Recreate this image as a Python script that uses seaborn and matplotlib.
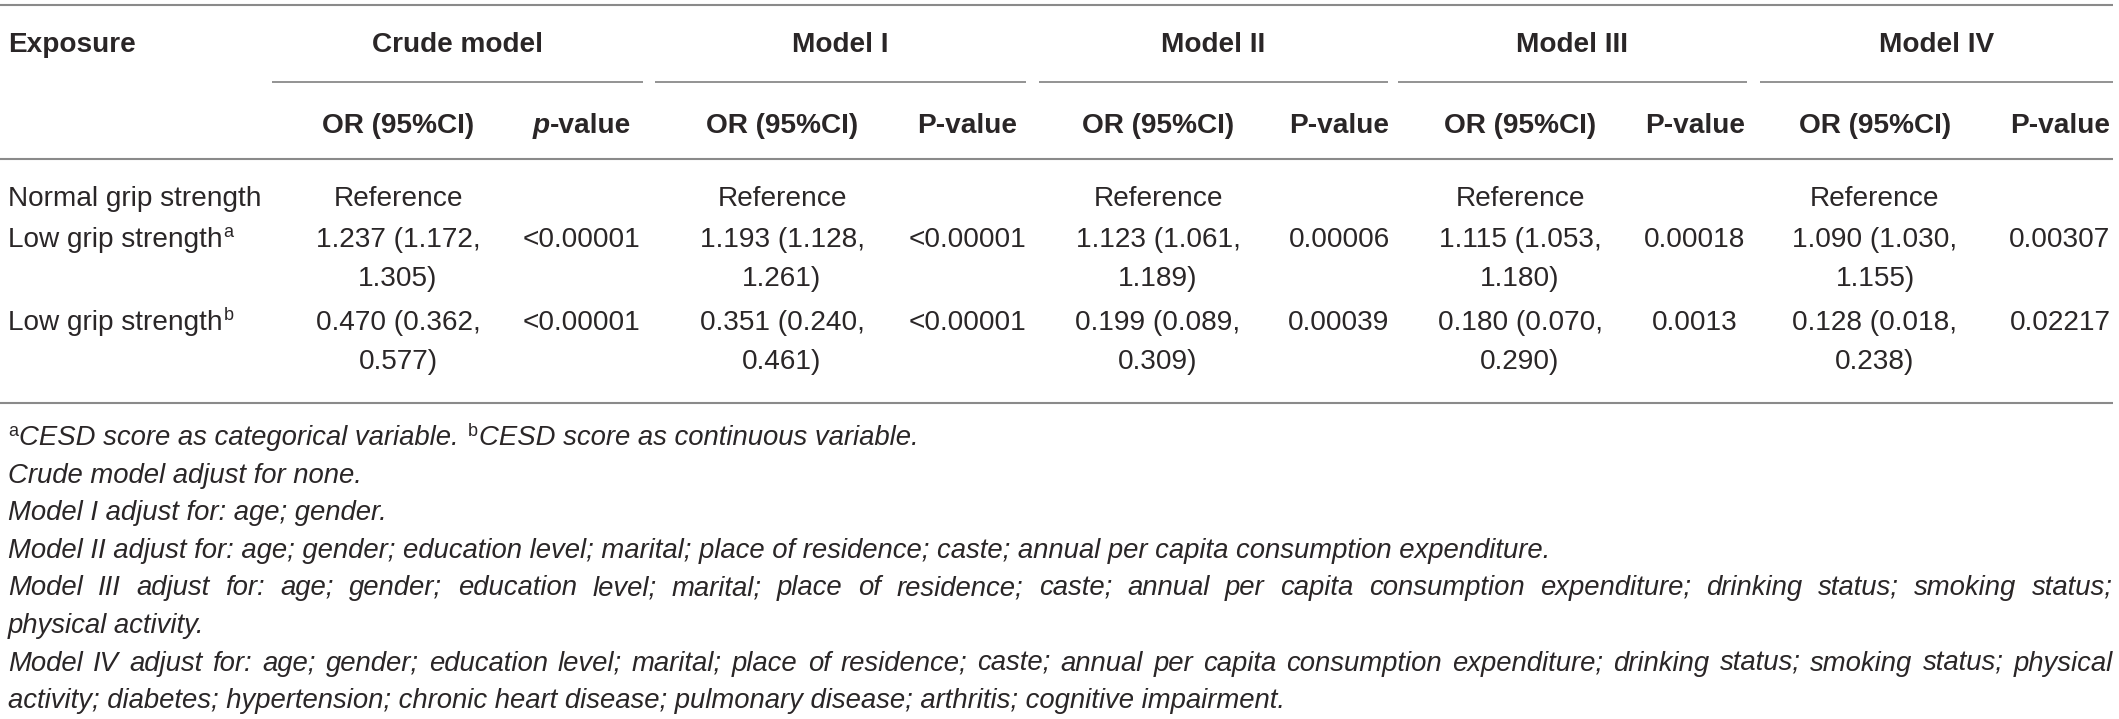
import matplotlib
matplotlib.use("Agg")
import matplotlib.pyplot as plt
import seaborn as sns

# table content
exposures = ["Normal grip strength", "Low grip strength", "Low grip strength"]
exposure_sup = ["", "a", "b"]
models = ["Crude model", "Model I", "Model II", "Model III", "Model IV"]

or_a = [1.237, 1.193, 1.123, 1.115, 1.090]
ci_lo_a = [1.172, 1.128, 1.061, 1.053, 1.030]
ci_hi_a = [1.305, 1.261, 1.189, 1.180, 1.155]
p_a = ["<0.00001", "<0.00001", "0.00006", "0.00018", "0.00307"]

or_b = [0.470, 0.351, 0.199, 0.180, 0.128]
ci_lo_b = [0.362, 0.240, 0.089, 0.070, 0.018]
ci_hi_b = [0.577, 0.461, 0.309, 0.290, 0.238]
p_b = ["<0.00001", "<0.00001", "0.00039", "0.0013", "0.02217"]

note_lines = [
    "Crude model adjust for none.",
    "Model I adjust for: age; gender.",
    "Model II adjust for: age; gender; education level; marital; place of residence; caste; annual per capita consumption expenditure.",
    "Model III adjust for: age; gender; education level; marital; place of residence; caste; annual per capita consumption expenditure; drinking status; smoking status;",
    "physical activity.",
    "Model IV adjust for: age; gender; education level; marital; place of residence; caste; annual per capita consumption expenditure; drinking status; smoking status; physical",
    "activity; diabetes; hypertension; chronic heart disease; pulmonary disease; arthritis; cognitive impairment.",
]
note_justified = [False, False, False, True, False, True, False]

sns.set_theme(style="white")
plt.rcParams["font.family"] = ["Liberation Sans", "DejaVu Sans"]

W, H = 2119, 719
fig = plt.figure(figsize=(W / 100, H / 100), dpi=100)
ax = fig.add_axes([0, 0, 1, 1])
ax.set_xlim(0, W)
ax.set_ylim(H, 0)
ax.axis("off")
renderer = fig.canvas.get_renderer()

INK = "#2a2627"
RULE = "#8a8a8a"
BODY = 20.2      # pt, ~28 px
NOTE = 19.8      # pt, ~27.5 px
SUP = 13


def put(x, y, s, size=BODY, ha="left", **kw):
    t = ax.text(x, y, s, fontsize=size, ha=ha, va="baseline", color=INK, **kw)
    bb = t.get_window_extent(renderer)
    return t, bb.width


def width(s, size=BODY, **kw):
    t = ax.text(0, 0, s, fontsize=size, **kw)
    w = t.get_window_extent(renderer).width
    t.remove()
    return w


def rule(x0, x1, y, lw=1.5):
    ax.plot([x0, x1], [y, y], color=RULE, lw=lw, solid_capstyle="butt")


def justify(y, line, x0, x1, size, **kw):
    words = line.split(" ")
    ws = [width(w, size, **kw) for w in words]
    gap = (x1 - x0 - sum(ws)) / (len(words) - 1)
    x = x0
    for w, wd in zip(words, ws):
        put(x, y, w, size, **kw)
        x += wd + gap


LEFT, RIGHT = 8, 2113
or_x = [398, 782, 1158, 1520, 1875]
p_x = [582, 967, 1339, 1695, 2060]
spans = [(272, 643), (655, 1026), (1039, 1388), (1398, 1747), (1760, 2113)]

# rules
rule(0, RIGHT, 5)
rule(0, RIGHT, 159)
rule(0, RIGHT, 403)
for a, b in spans:
    rule(a, b, 82, lw=1.3)

# header row 1
put(LEFT, 52, "Exposure", fontweight="bold")
for (a, b), m in zip(spans, models):
    put((a + b) / 2, 52, m, ha="center", fontweight="bold")

# header row 2
for i in range(5):
    put(or_x[i], 133, "OR (95%CI)", ha="center", fontweight="bold")
    if i == 0:
        wp = width("p", fontweight="bold", fontstyle="italic")
        wr = width("-value", fontweight="bold")
        x0 = p_x[i] - (wp + wr) / 2
        put(x0, 133, "p", fontweight="bold", fontstyle="italic")
        put(x0 + wp, 133, "-value", fontweight="bold")
    else:
        put(p_x[i], 133, "P-value", ha="center", fontweight="bold")

# body rows
row_base = [206, 247, 330]
for r, (name, sup) in enumerate(zip(exposures, exposure_sup)):
    _, wn = put(LEFT, row_base[r], name)
    if sup:
        put(LEFT + wn + 1, row_base[r] - 10, sup, size=SUP)

for i in range(5):
    put(or_x[i], row_base[0], "Reference", ha="center")
    put(or_x[i], row_base[1], f"{or_a[i]:.3f} ({ci_lo_a[i]:.3f},", ha="center")
    put(or_x[i], row_base[1] + 39, f"{ci_hi_a[i]:.3f})", ha="center")
    put(p_x[i], row_base[1], p_a[i], ha="center")
    put(or_x[i], row_base[2], f"{or_b[i]:.3f} ({ci_lo_b[i]:.3f},", ha="center")
    put(or_x[i], row_base[2] + 39, f"{ci_hi_b[i]:.3f})", ha="center")
    put(p_x[i], row_base[2], p_b[i], ha="center")

# footnotes
note_base = [445 + 37.6 * k for k in range(8)]
x = LEFT
_, w = put(x, note_base[0] - 9, "a", size=SUP)
x += w + 1
_, w = put(x, note_base[0], "CESD score as categorical variable. ", size=NOTE, fontstyle="italic")
x += w + 2
_, w = put(x, note_base[0] - 9, "b", size=SUP)
x += w + 1
put(x, note_base[0], "CESD score as continuous variable.", size=NOTE, fontstyle="italic")

for k, (line, just) in enumerate(zip(note_lines, note_justified)):
    yb = note_base[k + 1]
    if just:
        justify(yb, line, LEFT, RIGHT, NOTE, fontstyle="italic")
    else:
        put(LEFT, yb, line, size=NOTE, fontstyle="italic")

fig.savefig("out.png", dpi=100, facecolor="white")
